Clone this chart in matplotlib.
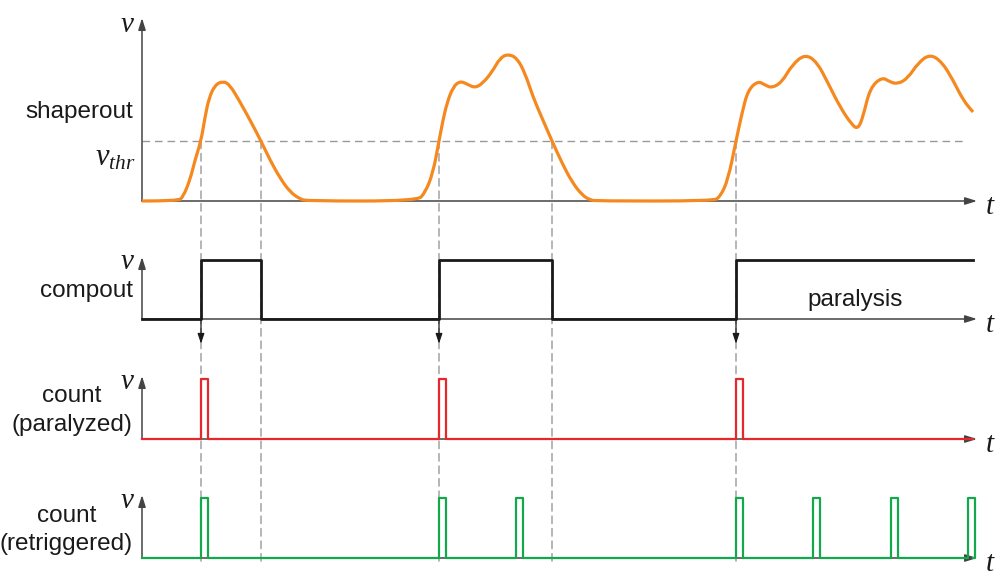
import matplotlib
matplotlib.use("Agg")
import matplotlib.pyplot as plt
from matplotlib.patches import ConnectionPatch, PathPatch
from matplotlib.path import Path

plt.rcParams['font.family'] = ['Liberation Sans', 'DejaVu Sans']
plt.rcParams['mathtext.fontset'] = 'custom'
plt.rcParams['mathtext.it'] = 'Liberation Serif:italic'
plt.rcParams['mathtext.rm'] = 'Liberation Serif'

# shaper output (time in ns, amplitude in mV)
shaper_t = [0, 36, 41, 48, 53, 59, 63, 67, 73, 81, 88, 98, 108, 119, 128, 138, 148, 158, 165,
            275, 283, 291, 297, 301, 305, 311, 318, 325, 333, 341, 350, 358, 366, 375, 383,
            391, 400, 410, 420, 430, 440, 448, 455,
            571, 578, 586, 594, 600, 606, 616, 623, 630, 640, 650, 663, 675, 686, 698, 710,
            716, 721, 728, 740, 748, 756, 766, 776, 788, 800, 811, 821, 831]
shaper_v = [0, 0, 4, 21, 41, 60, 84, 103, 116, 120, 116, 99, 81, 60, 41, 23, 9, 2, 0,
            0, 8, 28, 60, 81, 98, 114, 120, 117, 113, 118, 129, 143, 147, 143, 128,
            104, 83, 60, 38, 19, 6, 1, 0,
            0, 4, 21, 60, 88, 111, 120, 116, 113, 119, 136, 147, 139, 118, 94, 76,
            72, 84, 113, 124, 119, 117, 123, 138, 147, 139, 121, 101, 89]
v_thr = 60

# comparator output (steps)
comp_t = [0, 59, 119, 297, 410, 594, 831]
comp_v = [0, 1, 0, 1, 0, 1, 1]

# counter pulses
pulse_width = 7
paralyzed_starts = [59, 297, 594]
retrig_starts = [59, 297, 374, 594, 671, 749, 826]
cross_t = [59, 119, 297, 410, 594]
t_end = 831
t_arrow = 835

W, H = 1002, 576
fig = plt.figure(figsize=(W / 100, H / 100), dpi=100)
fig.patch.set_facecolor('white')

x0, x1 = 142, 977


def make_ax(y_base, y_top, vmax):
    ax = fig.add_axes([x0 / W, (H - y_base) / H, (x1 - x0) / W, (y_base - y_top) / H])
    ax.set_xlim(0, t_arrow)
    ax.set_ylim(0, vmax)
    ax.axis('off')
    return ax


ax1 = make_ax(201, 18, 183)
ax2 = make_ax(319, 257, 62 / 59)
ax3 = make_ax(439, 376, 63 / 60)
ax4 = make_ax(558, 495, 63 / 60)

axis_col = '#444444'
txt_col = '#1a1a1a'
arr = dict(arrowstyle='-|>,head_length=0.7,head_width=0.22', color=axis_col, lw=1.1,
           shrinkA=0, shrinkB=0, mutation_scale=10)
for ax in [ax1, ax2, ax3, ax4]:
    top = ax.get_ylim()[1]
    ax.annotate('', xy=(0, top), xytext=(0, 0), arrowprops=arr, annotation_clip=False)
    ax.annotate('', xy=(t_arrow, 0), xytext=(0, 0), arrowprops=arr, annotation_clip=False)

serif_it = dict(family='Liberation Serif', style='italic', fontsize=21, color=txt_col)
ax1.text(-15, 176, 'v', ha='center', va='center', **serif_it)
ax1.text(848, -6, 't', ha='center', va='center', **serif_it)
for ax, sc in [(ax2, 59), (ax3, 60), (ax4, 60)]:
    ax.text(-15, 57 / sc, 'v', ha='center', va='center', **serif_it)
    ax.text(848, -6 / sc, 't', ha='center', va='center', **serif_it)

# shaper panel: smooth path through the read points (quadratic segments)
pts = list(zip(shaper_t, shaper_v))
verts = [pts[0]]
codes = [Path.MOVETO]
for i in range(1, len(pts) - 1):
    mid = ((pts[i][0] + pts[i + 1][0]) / 2, (pts[i][1] + pts[i + 1][1]) / 2)
    verts += [pts[i], mid]
    codes += [Path.CURVE3, Path.CURVE3]
verts.append(pts[-1])
codes.append(Path.LINETO)
ax1.add_patch(PathPatch(Path(verts, codes), facecolor='none', edgecolor='#f5891f',
                        lw=2.3, joinstyle='round', capstyle='butt', zorder=3,
                        clip_on=False))
ax1.plot([0, 825], [v_thr, v_thr], color='#999999', lw=1.0, ls=(0, (5.5, 3.5)), zorder=1)
ax1.text(-9, 89, 'shaperout', ha='right', va='center', fontsize=17.5, color=txt_col)
ax1.text(-6, 43, r'$v_{thr}$', ha='right', va='center', fontsize=22, color=txt_col)

# comparator panel
ax2.plot(comp_t, comp_v, drawstyle='steps-post', color='#1a1a1a', lw=2.0, zorder=3,
         clip_on=False)
ax2.text(-9, 0.47, 'compout', ha='right', va='center', fontsize=17.5, color=txt_col)
ax2.text(713, 0.32, 'paralysis', ha='center', va='center', fontsize=17.5, color=txt_col)
for t in paralyzed_starts:
    ax2.annotate('', xy=(t, -0.42), xytext=(t, 0),
                 arrowprops=dict(arrowstyle='-|>,head_length=0.6,head_width=0.2',
                                 color='#1a1a1a', lw=0.9, shrinkA=0, shrinkB=0,
                                 mutation_scale=10),
                 annotation_clip=False)


def pulse_train(starts):
    ts, vs = [0], [0]
    for s in starts:
        ts += [s, s, s + pulse_width, s + pulse_width]
        vs += [0, 1, 1, 0]
    ts.append(t_end)
    vs.append(0)
    return ts, vs


pt, pv = pulse_train(paralyzed_starts)
ax3.plot(pt, pv, color='#e8262b', lw=1.6, zorder=3, clip_on=False)
ax3.text(-70, 0.62, 'count', ha='center', va='baseline', fontsize=17.5, color=txt_col)
ax3.text(-70, 0.135, '(paralyzed)', ha='center', va='baseline', fontsize=17.5, color=txt_col)

rt, rv = pulse_train(retrig_starts)
ax4.plot(rt, rv, color='#12a84b', lw=1.6, zorder=3, clip_on=False)
ax4.text(-75.5, 0.6, 'count', ha='center', va='baseline', fontsize=17.5, color=txt_col)
ax4.text(-75.5, 0.135, '(retriggered)', ha='center', va='baseline', fontsize=17.5,
         color=txt_col)

# dashed guides from the threshold crossings down through all panels
for t in cross_t:
    con = ConnectionPatch(xyA=(t, v_thr), coordsA=ax1.transData,
                          xyB=(t, -0.09), coordsB=ax4.transData,
                          color='#999999', lw=1.0, linestyle=(0, (5.5, 3.5)), zorder=-1)
    fig.add_artist(con)

plt.savefig('out.png', dpi=100, facecolor='white')
